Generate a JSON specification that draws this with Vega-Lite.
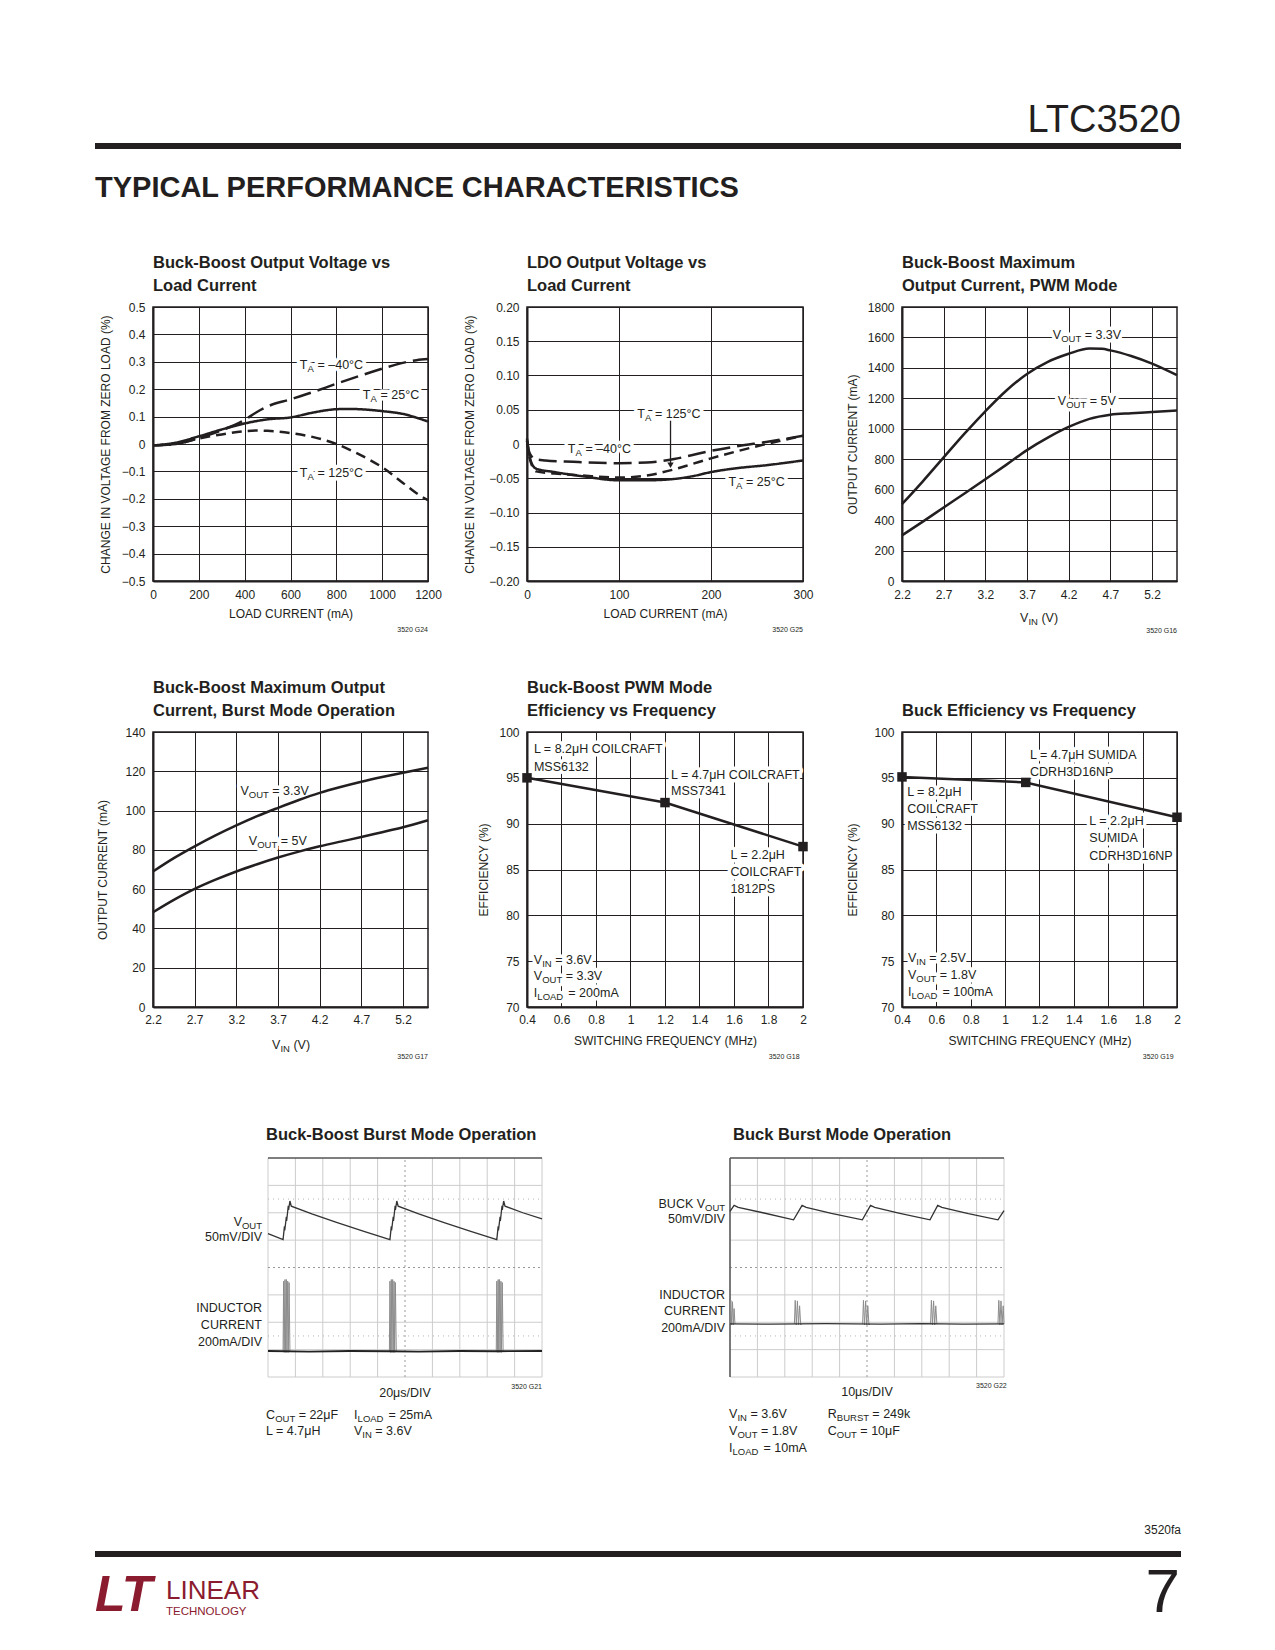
{
"$schema":"https://vega.github.io/schema/vega-lite/v6.json",
"background":"white",
"padding":{"left":92,"top":95,"right":5,"bottom":5},
"autosize":{"type":"pad"},
"config":{
 "font":"'Liberation Sans', sans-serif",
 "view":{"stroke":"#231F20","strokeWidth":1.5},
 "axis":{"grid":true,"gridColor":"#231F20","gridOpacity":1,"gridWidth":1,"domainColor":"#231F20","domainWidth":2,"ticks":false,"labelFont":"'Liberation Sans', sans-serif","labelFontSize":12,"labelColor":"#231F20","labelPadding":8,"labelFlush":false,"labelOverlap":false,"titleFont":"'Liberation Sans', sans-serif","titleFontSize":12,"titleFontWeight":"normal","titleColor":"#231F20"},
 "title":{"font":"'Liberation Sans', sans-serif","fontSize":16.5,"fontWeight":"bold","color":"#231F20","anchor":"start","frame":"group","baseline":"bottom","offset":7,"lineHeight":23},
 "text":{"font":"'Liberation Sans', sans-serif","fontSize":12.5,"color":"#231F20"},
 "line":{"color":"#231F20","strokeWidth":2.5},
 "point":{"color":"#231F20"},
 "rule":{"color":"#231F20"}
},
"datasets":{
 "a":[
  {"k":"-40","x":0,"y":-0.005},{"k":"-40","x":100,"y":0},{"k":"-40","x":200,"y":0.022},{"k":"-40","x":300,"y":0.05},{"k":"-40","x":400,"y":0.088},{"k":"-40","x":450,"y":0.115},{"k":"-40","x":500,"y":0.137},{"k":"-40","x":600,"y":0.163},{"k":"-40","x":700,"y":0.19},{"k":"-40","x":800,"y":0.22},{"k":"-40","x":900,"y":0.248},{"k":"-40","x":1000,"y":0.275},{"k":"-40","x":1100,"y":0.298},{"k":"-40","x":1150,"y":0.306},{"k":"-40","x":1200,"y":0.31},
  {"k":"25","x":0,"y":-0.005},{"k":"25","x":100,"y":0.005},{"k":"25","x":200,"y":0.028},{"k":"25","x":300,"y":0.053},{"k":"25","x":400,"y":0.075},{"k":"25","x":500,"y":0.09},{"k":"25","x":600,"y":0.097},{"k":"25","x":700,"y":0.115},{"k":"25","x":800,"y":0.127},{"k":"25","x":850,"y":0.128},{"k":"25","x":900,"y":0.127},{"k":"25","x":1000,"y":0.12},{"k":"25","x":1100,"y":0.108},{"k":"25","x":1150,"y":0.096},{"k":"25","x":1200,"y":0.082},
  {"k":"125","x":0,"y":-0.005},{"k":"125","x":100,"y":0},{"k":"125","x":200,"y":0.02},{"k":"125","x":300,"y":0.035},{"k":"125","x":400,"y":0.047},{"k":"125","x":450,"y":0.049},{"k":"125","x":500,"y":0.048},{"k":"125","x":600,"y":0.04},{"k":"125","x":700,"y":0.025},{"k":"125","x":800,"y":0},{"k":"125","x":900,"y":-0.038},{"k":"125","x":1000,"y":-0.085},{"k":"125","x":1100,"y":-0.148},{"k":"125","x":1150,"y":-0.18},{"k":"125","x":1200,"y":-0.205}
 ],
 "b":[
  {"k":"-40","x":0,"y":0.005},{"k":"-40","x":2,"y":-0.01},{"k":"-40","x":5,"y":-0.018},{"k":"-40","x":8,"y":-0.022},{"k":"-40","x":20,"y":-0.024},{"k":"-40","x":50,"y":-0.026},{"k":"-40","x":100,"y":-0.028},{"k":"-40","x":130,"y":-0.027},{"k":"-40","x":160,"y":-0.022},{"k":"-40","x":180,"y":-0.016},{"k":"-40","x":200,"y":-0.01},{"k":"-40","x":230,"y":-0.003},{"k":"-40","x":260,"y":0.003},{"k":"-40","x":300,"y":0.012},
  {"k":"25","x":0,"y":0.008},{"k":"25","x":2,"y":-0.012},{"k":"25","x":5,"y":-0.028},{"k":"25","x":10,"y":-0.036},{"k":"25","x":30,"y":-0.041},{"k":"25","x":60,"y":-0.047},{"k":"25","x":100,"y":-0.053},{"k":"25","x":130,"y":-0.053},{"k":"25","x":160,"y":-0.051},{"k":"25","x":180,"y":-0.047},{"k":"25","x":200,"y":-0.041},{"k":"25","x":230,"y":-0.035},{"k":"25","x":260,"y":-0.031},{"k":"25","x":300,"y":-0.024},
  {"k":"125","x":0,"y":0.005},{"k":"125","x":2,"y":-0.015},{"k":"125","x":5,"y":-0.03},{"k":"125","x":10,"y":-0.04},{"k":"125","x":30,"y":-0.043},{"k":"125","x":60,"y":-0.046},{"k":"125","x":100,"y":-0.049},{"k":"125","x":130,"y":-0.046},{"k":"125","x":160,"y":-0.037},{"k":"125","x":180,"y":-0.029},{"k":"125","x":200,"y":-0.021},{"k":"125","x":230,"y":-0.01},{"k":"125","x":260,"y":0},{"k":"125","x":300,"y":0.012}
 ],
 "arr":[{"x":156,"y":0.034,"y2":-0.031}],
 "c":[
  {"k":"3.3","x":2.2,"y":505},{"k":"3.3","x":2.45,"y":655},{"k":"3.3","x":2.7,"y":812},{"k":"3.3","x":2.95,"y":968},{"k":"3.3","x":3.2,"y":1115},{"k":"3.3","x":3.45,"y":1250},{"k":"3.3","x":3.7,"y":1360},{"k":"3.3","x":3.95,"y":1440},{"k":"3.3","x":4.2,"y":1493},{"k":"3.3","x":4.45,"y":1527},{"k":"3.3","x":4.6,"y":1525},{"k":"3.3","x":4.7,"y":1515},{"k":"3.3","x":4.95,"y":1478},{"k":"3.3","x":5.2,"y":1428},{"k":"3.3","x":5.5,"y":1352},
  {"k":"5","x":2.2,"y":300},{"k":"5","x":2.45,"y":390},{"k":"5","x":2.7,"y":483},{"k":"5","x":2.95,"y":575},{"k":"5","x":3.2,"y":669},{"k":"5","x":3.45,"y":763},{"k":"5","x":3.7,"y":860},{"k":"5","x":3.95,"y":942},{"k":"5","x":4.2,"y":1012},{"k":"5","x":4.45,"y":1065},{"k":"5","x":4.7,"y":1092},{"k":"5","x":4.95,"y":1102},{"k":"5","x":5.2,"y":1110},{"k":"5","x":5.5,"y":1120}
 ],
 "d":[
  {"k":"3.3","x":2.2,"y":69},{"k":"3.3","x":2.45,"y":75.8},{"k":"3.3","x":2.7,"y":81.8},{"k":"3.3","x":2.95,"y":87.4},{"k":"3.3","x":3.2,"y":92.5},{"k":"3.3","x":3.45,"y":97.2},{"k":"3.3","x":3.7,"y":101.4},{"k":"3.3","x":3.95,"y":105.4},{"k":"3.3","x":4.2,"y":109},{"k":"3.3","x":4.45,"y":112},{"k":"3.3","x":4.7,"y":114.7},{"k":"3.3","x":4.95,"y":117.1},{"k":"3.3","x":5.2,"y":119.3},{"k":"3.3","x":5.5,"y":121.8},
  {"k":"5","x":2.2,"y":48.2},{"k":"5","x":2.45,"y":54.5},{"k":"5","x":2.7,"y":60.1},{"k":"5","x":2.95,"y":64.8},{"k":"5","x":3.2,"y":69},{"k":"5","x":3.45,"y":72.7},{"k":"5","x":3.7,"y":76.1},{"k":"5","x":3.95,"y":79.1},{"k":"5","x":4.2,"y":81.8},{"k":"5","x":4.45,"y":84.2},{"k":"5","x":4.7,"y":86.5},{"k":"5","x":4.95,"y":89},{"k":"5","x":5.2,"y":91.5},{"k":"5","x":5.5,"y":95.1}
 ],
 "e":[{"x":0.4,"y":95},{"x":1.2,"y":92.3},{"x":2.0,"y":87.5}],
 "f":[{"x":0.4,"y":95.1},{"x":1.12,"y":94.5},{"x":2.0,"y":90.7}],
 "sg":[
  {"k":"g","x":0,"x2":0,"y":0,"y2":8},{"k":"g","x":1,"x2":1,"y":0,"y2":8},{"k":"g","x":2,"x2":2,"y":0,"y2":8},{"k":"g","x":3,"x2":3,"y":0,"y2":8},{"k":"g","x":4,"x2":4,"y":0,"y2":8},{"k":"g","x":6,"x2":6,"y":0,"y2":8},{"k":"g","x":7,"x2":7,"y":0,"y2":8},{"k":"g","x":8,"x2":8,"y":0,"y2":8},{"k":"g","x":9,"x2":9,"y":0,"y2":8},{"k":"g","x":10,"x2":10,"y":0,"y2":8},
  {"k":"g","x":0,"x2":10,"y":0,"y2":0},{"k":"g","x":0,"x2":10,"y":1,"y2":1},{"k":"g","x":0,"x2":10,"y":2,"y2":2},{"k":"g","x":0,"x2":10,"y":3,"y2":3},{"k":"g","x":0,"x2":10,"y":5,"y2":5},{"k":"g","x":0,"x2":10,"y":6,"y2":6},{"k":"g","x":0,"x2":10,"y":7,"y2":7},
  {"k":"d","x":0,"x2":10,"y":6.5,"y2":6.5},{"k":"d","x":0,"x2":10,"y":1.5,"y2":1.5},
  {"k":"c","x":0,"x2":10,"y":4,"y2":4},{"k":"c","x":5,"x2":5,"y":0,"y2":8},
  {"k":"t","x":0,"x2":10,"y":8,"y2":8},
  {"k":"l","x":0,"x2":0,"y":0,"y2":8}
 ],
 "s1":[
  {"k":"vout","x":0,"y":5.24},{"k":"vout","x":0.55,"y":5.02},{"k":"vout","x":0.6,"y":5.5},{"k":"vout","x":0.61,"y":5.35},{"k":"vout","x":0.67,"y":5.85},{"k":"vout","x":0.68,"y":5.7},{"k":"vout","x":0.74,"y":6.25},{"k":"vout","x":0.75,"y":6.1},{"k":"vout","x":0.8,"y":6.43},{"k":"vout","x":0.85,"y":6.24},{"k":"vout","x":1.6,"y":5.96},{"k":"vout","x":2.5,"y":5.65},{"k":"vout","x":3.5,"y":5.32},{"k":"vout","x":4.45,"y":5.02},
  {"k":"vout","x":4.5,"y":5.5},{"k":"vout","x":4.51,"y":5.35},{"k":"vout","x":4.57,"y":5.85},{"k":"vout","x":4.58,"y":5.7},{"k":"vout","x":4.64,"y":6.25},{"k":"vout","x":4.65,"y":6.1},{"k":"vout","x":4.7,"y":6.43},{"k":"vout","x":4.75,"y":6.24},{"k":"vout","x":5.5,"y":5.96},{"k":"vout","x":6.4,"y":5.65},{"k":"vout","x":7.4,"y":5.32},{"k":"vout","x":8.35,"y":5.02},
  {"k":"vout","x":8.4,"y":5.5},{"k":"vout","x":8.41,"y":5.35},{"k":"vout","x":8.47,"y":5.85},{"k":"vout","x":8.48,"y":5.7},{"k":"vout","x":8.54,"y":6.25},{"k":"vout","x":8.55,"y":6.1},{"k":"vout","x":8.6,"y":6.43},{"k":"vout","x":8.65,"y":6.24},{"k":"vout","x":9.3,"y":6.0},{"k":"vout","x":10,"y":5.78},
  {"k":"il","x":0,"y":0.95},{"k":"il","x":1.5,"y":0.93},{"k":"il","x":3,"y":0.95},{"k":"il","x":4.4,"y":0.94},{"k":"il","x":5.5,"y":0.93},{"k":"il","x":7,"y":0.95},{"k":"il","x":8.3,"y":0.94},{"k":"il","x":10,"y":0.95},
  {"k":"b1","x":0.55,"y":0.94},{"k":"b1","x":0.57,"y":3.5},{"k":"b1","x":0.59,"y":0.9},{"k":"b1","x":0.62,"y":3.56},{"k":"b1","x":0.64,"y":0.9},{"k":"b1","x":0.67,"y":3.56},{"k":"b1","x":0.69,"y":0.9},{"k":"b1","x":0.72,"y":3.5},{"k":"b1","x":0.74,"y":0.9},{"k":"b1","x":0.77,"y":3.45},{"k":"b1","x":0.8,"y":0.94},
  {"k":"b2","x":4.43,"y":0.94},{"k":"b2","x":4.45,"y":3.5},{"k":"b2","x":4.47,"y":0.9},{"k":"b2","x":4.5,"y":3.56},{"k":"b2","x":4.52,"y":0.9},{"k":"b2","x":4.55,"y":3.56},{"k":"b2","x":4.57,"y":0.9},{"k":"b2","x":4.6,"y":3.5},{"k":"b2","x":4.62,"y":0.9},{"k":"b2","x":4.65,"y":3.45},{"k":"b2","x":4.68,"y":0.94},
  {"k":"b3","x":8.33,"y":0.94},{"k":"b3","x":8.35,"y":3.5},{"k":"b3","x":8.37,"y":0.9},{"k":"b3","x":8.4,"y":3.56},{"k":"b3","x":8.42,"y":0.9},{"k":"b3","x":8.45,"y":3.56},{"k":"b3","x":8.47,"y":0.9},{"k":"b3","x":8.5,"y":3.5},{"k":"b3","x":8.52,"y":0.9},{"k":"b3","x":8.55,"y":3.45},{"k":"b3","x":8.58,"y":0.94}
 ],
 "s2":[
  {"k":"vout","x":0,"y":6.05},{"k":"vout","x":0.15,"y":6.27},{"k":"vout","x":0.3,"y":6.2},{"k":"vout","x":1.2,"y":6.0},{"k":"vout","x":2.32,"y":5.74},{"k":"vout","x":2.63,"y":6.27},{"k":"vout","x":2.78,"y":6.2},{"k":"vout","x":3.7,"y":5.98},{"k":"vout","x":4.83,"y":5.74},{"k":"vout","x":5.13,"y":6.27},{"k":"vout","x":5.28,"y":6.2},{"k":"vout","x":6.2,"y":5.98},{"k":"vout","x":7.3,"y":5.74},{"k":"vout","x":7.58,"y":6.27},{"k":"vout","x":7.73,"y":6.2},{"k":"vout","x":8.7,"y":5.97},{"k":"vout","x":9.78,"y":5.74},{"k":"vout","x":10,"y":6.08},
  {"k":"il","x":0,"y":1.94},{"k":"il","x":1.5,"y":1.93},{"k":"il","x":3.5,"y":1.95},{"k":"il","x":5.5,"y":1.93},{"k":"il","x":7.0,"y":1.95},{"k":"il","x":8.5,"y":1.93},{"k":"il","x":10,"y":1.94},
  {"k":"b1","x":0,"y":1.94},{"k":"b1","x":0.03,"y":2.8},{"k":"b1","x":0.06,"y":1.9},{"k":"b1","x":0.09,"y":2.75},{"k":"b1","x":0.12,"y":1.9},{"k":"b1","x":0.15,"y":2.5},{"k":"b1","x":0.18,"y":1.94},
  {"k":"b2","x":2.35,"y":1.94},{"k":"b2","x":2.38,"y":2.8},{"k":"b2","x":2.42,"y":1.9},{"k":"b2","x":2.46,"y":2.78},{"k":"b2","x":2.5,"y":1.9},{"k":"b2","x":2.54,"y":2.6},{"k":"b2","x":2.58,"y":1.9},{"k":"b2","x":2.62,"y":1.94},
  {"k":"b3","x":4.84,"y":1.94},{"k":"b3","x":4.87,"y":2.8},{"k":"b3","x":4.91,"y":1.9},{"k":"b3","x":4.95,"y":2.78},{"k":"b3","x":4.99,"y":1.9},{"k":"b3","x":5.03,"y":2.6},{"k":"b3","x":5.07,"y":1.9},{"k":"b3","x":5.1,"y":1.94},
  {"k":"b4","x":7.32,"y":1.94},{"k":"b4","x":7.35,"y":2.8},{"k":"b4","x":7.39,"y":1.9},{"k":"b4","x":7.43,"y":2.78},{"k":"b4","x":7.47,"y":1.9},{"k":"b4","x":7.51,"y":2.6},{"k":"b4","x":7.55,"y":1.94},
  {"k":"b5","x":9.78,"y":1.94},{"k":"b5","x":9.81,"y":2.8},{"k":"b5","x":9.85,"y":1.9},{"k":"b5","x":9.89,"y":2.78},{"k":"b5","x":9.93,"y":1.9},{"k":"b5","x":9.97,"y":2.6},{"k":"b5","x":10,"y":1.94}
 ],
 "lab":[
  {"p":"A","x":674,"y":0.29,"t":"T","s":"A","r":"= –40°C"},
  {"p":"A","x":949,"y":0.18,"t":"T","s":"A","r":"= 25°C"},
  {"p":"A","x":674,"y":-0.105,"t":"T","s":"A","r":"= 125°C"},
  {"p":"B","x":128.2,"y":0.044,"t":"T","s":"A","r":"= 125°C"},
  {"p":"B","x":52.6,"y":-0.008,"t":"T","s":"A","r":"= –40°C"},
  {"p":"B","x":227.2,"y":-0.0555,"t":"T","s":"A","r":"= 25°C"},
  {"p":"C","x":4.11,"y":1615,"t":"V","s":"OUT","r":"= 3.3V"},
  {"p":"C","x":4.17,"y":1180,"t":"V","s":"OUT","r":"= 5V"},
  {"p":"C","x":3.717,"y":-244,"t":"V","s":"IN","r":"(V)"},
  {"p":"D","x":3.35,"y":110,"t":"V","s":"OUT","r":"= 3.3V"},
  {"p":"D","x":3.45,"y":84.3,"t":"V","s":"OUT","r":"= 5V"},
  {"p":"D","x":3.729,"y":-19.3,"t":"V","s":"IN","r":"(V)"},
  {"p":"E","x":0.44,"y":98.1,"t":"","s":"","r":"L = 8.2μH COILCRAFT"},
  {"p":"E","x":0.44,"y":96.2,"t":"","s":"","r":"MSS6132"},
  {"p":"E","x":1.235,"y":95.3,"t":"","s":"","r":"L = 4.7μH COILCRAFT"},
  {"p":"E","x":1.235,"y":93.6,"t":"","s":"","r":"MSS7341"},
  {"p":"E","x":1.58,"y":86.6,"t":"","s":"","r":"L = 2.2μH"},
  {"p":"E","x":1.58,"y":84.7,"t":"","s":"","r":"COILCRAFT"},
  {"p":"E","x":1.58,"y":82.9,"t":"","s":"","r":"1812PS"},
  {"p":"E","x":0.488,"y":75.1,"t":"V","s":"IN","r":"= 3.6V"},
  {"p":"E","x":0.488,"y":73.4,"t":"V","s":"OUT","r":"= 3.3V"},
  {"p":"E","x":0.46,"y":71.5,"t":"I","s":"LOAD","r":"= 200mA"},
  {"p":"F","x":1.145,"y":97.5,"t":"","s":"","r":"L = 4.7μH SUMIDA"},
  {"p":"F","x":1.145,"y":95.6,"t":"","s":"","r":"CDRH3D16NP"},
  {"p":"F","x":0.43,"y":93.5,"t":"","s":"","r":"L = 8.2μH"},
  {"p":"F","x":0.43,"y":91.6,"t":"","s":"","r":"COILCRAFT"},
  {"p":"F","x":0.43,"y":89.75,"t":"","s":"","r":"MSS6132"},
  {"p":"F","x":1.49,"y":90.3,"t":"","s":"","r":"L = 2.2μH"},
  {"p":"F","x":1.49,"y":88.4,"t":"","s":"","r":"SUMIDA"},
  {"p":"F","x":1.49,"y":86.5,"t":"","s":"","r":"CDRH3D16NP"},
  {"p":"F","x":0.483,"y":75.4,"t":"V","s":"IN","r":"= 2.5V"},
  {"p":"F","x":0.483,"y":73.5,"t":"V","s":"OUT","r":"= 1.8V"},
  {"p":"F","x":0.455,"y":71.6,"t":"I","s":"LOAD","r":"= 100mA"},
  {"p":"S1","x":-0.95,"y":5.66,"t":"V","s":"OUT","r":""},
  {"p":"S1","x":-0.22,"y":5.11,"t":"50mV/DIV","s":"","r":""},
  {"p":"S1","x":-0.22,"y":2.52,"t":"INDUCTOR","s":"","r":""},
  {"p":"S1","x":-0.22,"y":1.9,"t":"CURRENT","s":"","r":""},
  {"p":"S1","x":-0.22,"y":1.28,"t":"200mA/DIV","s":"","r":""},
  {"p":"S1","x":0.26,"y":-1.39,"t":"C","s":"OUT","r":"= 22μF"},
  {"p":"S1","x":-0.07,"y":-1.97,"t":"","s":"","r":"L = 4.7μH"},
  {"p":"S1","x":3.27,"y":-1.39,"t":"I","s":"LOAD","r":"= 25mA"},
  {"p":"S1","x":3.44,"y":-1.97,"t":"V","s":"IN","r":"= 3.6V"},
  {"p":"S2","x":-0.91,"y":6.31,"t":"BUCK V","s":"OUT","r":""},
  {"p":"S2","x":-0.18,"y":5.77,"t":"50mV/DIV","s":"","r":""},
  {"p":"S2","x":-0.18,"y":2.99,"t":"INDUCTOR","s":"","r":""},
  {"p":"S2","x":-0.18,"y":2.41,"t":"CURRENT","s":"","r":""},
  {"p":"S2","x":-0.18,"y":1.79,"t":"200mA/DIV","s":"","r":""},
  {"p":"S2","x":0.27,"y":-1.35,"t":"V","s":"IN","r":"= 3.6V"},
  {"p":"S2","x":0.27,"y":-1.97,"t":"V","s":"OUT","r":"= 1.8V"},
  {"p":"S2","x":0.09,"y":-2.59,"t":"I","s":"LOAD","r":"= 10mA"},
  {"p":"S2","x":3.9,"y":-1.35,"t":"R","s":"BURST","r":"= 249k"},
  {"p":"S2","x":3.9,"y":-1.97,"t":"C","s":"OUT","r":"= 10μF"}
 ],
 "ids":[
  {"p":"A","k":"id","x":1200,"y":-0.679,"txt":"3520 G24"},
  {"p":"B","k":"id","x":300,"y":-0.2715,"txt":"3520 G25"},
  {"p":"C","k":"id","x":5.5,"y":-330,"txt":"3520 G16"},
  {"p":"D","k":"id","x":5.5,"y":-25.5,"txt":"3520 G17"},
  {"p":"E","k":"id","x":1.98,"y":64.5,"txt":"3520 G18"},
  {"p":"F","k":"id","x":1.98,"y":64.5,"txt":"3520 G19"},
  {"p":"S1","k":"id","x":10,"y":-0.36,"txt":"3520 G21"},
  {"p":"S2","k":"id","x":10.1,"y":-0.33,"txt":"3520 G22"},
  {"p":"S1","k":"div","x":5,"y":-0.58,"txt":"20μs/DIV"},
  {"p":"S2","k":"div","x":5,"y":-0.55,"txt":"10μs/DIV"}
 ]
},
"columns":3,
"align":"each",
"bounds":"flush",
"spacing":{"row":151,"column":99},
"concat":[
 {"width":275,"height":61,"view":{"stroke":null},
  "layer":[
   {"data":{"values":[{}]},"mark":{"type":"text","align":"right","baseline":"middle","fontSize":38},
    "encoding":{"x":{"datum":373.82,"type":"quantitative","scale":{"domain":[0,100],"nice":false},"axis":null},"y":{"datum":42.6,"type":"quantitative","scale":{"domain":[0,100],"reverse":true,"nice":false},"axis":null},"text":{"value":"LTC3520"}}},
   {"data":{"values":[{}]},"mark":{"type":"rule","strokeWidth":6},
    "encoding":{"x":{"datum":-21.09,"type":"quantitative","scale":{"domain":[0,100],"nice":false},"axis":null},"x2":{"datum":373.82},"y":{"datum":83.6,"type":"quantitative","scale":{"domain":[0,100],"reverse":true,"nice":false},"axis":null}}},
   {"data":{"values":[{}]},"mark":{"type":"text","align":"left","baseline":"middle","fontSize":29,"fontWeight":"bold"},
    "encoding":{"x":{"datum":-21.09,"type":"quantitative","scale":{"domain":[0,100],"nice":false},"axis":null},"y":{"datum":152.5,"type":"quantitative","scale":{"domain":[0,100],"reverse":true,"nice":false},"axis":null},"text":{"value":"TYPICAL PERFORMANCE CHARACTERISTICS"}}}
  ]},
 {"width":1,"height":61,"view":{"stroke":null},"data":{"values":[{}]},"mark":{"type":"point","opacity":0}},
 {"width":1,"height":61,"view":{"stroke":null},"data":{"values":[{}]},"mark":{"type":"point","opacity":0}},

 {"width":275,"height":274,
  "title":{"text":["Buck-Boost Output Voltage vs","Load Current"]},
  "encoding":{
   "x":{"field":"x","type":"quantitative","scale":{"domain":[0,1200],"nice":false,"zero":false},"axis":{"values":[0,200,400,600,800,1000,1200],"format":"d","title":"LOAD CURRENT (mA)","titlePadding":8}},
   "y":{"field":"y","type":"quantitative","scale":{"domain":[-0.5,0.5],"nice":false,"zero":false},"axis":{"values":[-0.5,-0.4,-0.3,-0.2,-0.1,0,0.1,0.2,0.3,0.4,0.5],"labelExpr":"datum.value == 0 ? '0' : format(datum.value, '.1f')","title":"CHANGE IN VOLTAGE FROM ZERO LOAD (%)","titlePadding":9}}},
  "layer":[
   {"data":{"name":"lab"},"transform":[{"filter":"datum.p=='A'"}],"mark":{"type":"text","align":"right","baseline":"middle","fill":"white","stroke":"white","strokeWidth":7,"strokeJoin":"round"},"encoding":{"text":{"field":"t","type":"nominal"}}},
   {"data":{"name":"lab"},"transform":[{"filter":"datum.p=='A'"}],"mark":{"type":"text","align":"left","baseline":"middle","fontSize":9.5,"dy":4,"fill":"white","stroke":"white","strokeWidth":7,"strokeJoin":"round"},"encoding":{"text":{"field":"s","type":"nominal"}}},
   {"data":{"name":"lab"},"transform":[{"filter":"datum.p=='A' && datum.s=='A'"}],"mark":{"type":"text","align":"left","baseline":"middle","dx":10,"fill":"white","stroke":"white","strokeWidth":7,"strokeJoin":"round"},"encoding":{"text":{"field":"r","type":"nominal"}}},
   {"data":{"name":"a"},"mark":{"type":"line","interpolate":"monotone"},"encoding":{"strokeDash":{"field":"k","type":"nominal","scale":{"domain":["-40","25","125"],"range":[[18,7],[1,0],[10,6]]},"legend":null}}},
   {"data":{"name":"lab"},"transform":[{"filter":"datum.p=='A'"}],"mark":{"type":"text","align":"right","baseline":"middle"},"encoding":{"text":{"field":"t","type":"nominal"}}},
   {"data":{"name":"lab"},"transform":[{"filter":"datum.p=='A'"}],"mark":{"type":"text","align":"left","baseline":"middle","fontSize":9.5,"dy":4},"encoding":{"text":{"field":"s","type":"nominal"}}},
   {"data":{"name":"lab"},"transform":[{"filter":"datum.p=='A' && datum.s=='A'"}],"mark":{"type":"text","align":"left","baseline":"middle","dx":10},"encoding":{"text":{"field":"r","type":"nominal"}}},
   {"data":{"name":"ids"},"transform":[{"filter":"datum.p=='A' && datum.k=='id'"}],"mark":{"type":"text","align":"right","baseline":"middle","fontSize":7},"encoding":{"text":{"field":"txt","type":"nominal"}}}
  ]},
 {"width":276,"height":274,
  "title":{"text":["LDO Output Voltage vs","Load Current"]},
  "encoding":{
   "x":{"field":"x","type":"quantitative","scale":{"domain":[0,300],"nice":false,"zero":false},"axis":{"values":[0,100,200,300],"format":"d","title":"LOAD CURRENT (mA)","titlePadding":8}},
   "y":{"field":"y","type":"quantitative","scale":{"domain":[-0.2,0.2],"nice":false,"zero":false},"axis":{"values":[-0.2,-0.15,-0.1,-0.05,0,0.05,0.1,0.15,0.2],"labelExpr":"datum.value == 0 ? '0' : format(datum.value, '.2f')","title":"CHANGE IN VOLTAGE FROM ZERO LOAD (%)","titlePadding":12}}},
  "layer":[
   {"data":{"name":"lab"},"transform":[{"filter":"datum.p=='B'"}],"mark":{"type":"text","align":"right","baseline":"middle","fill":"white","stroke":"white","strokeWidth":7,"strokeJoin":"round"},"encoding":{"text":{"field":"t","type":"nominal"}}},
   {"data":{"name":"lab"},"transform":[{"filter":"datum.p=='B'"}],"mark":{"type":"text","align":"left","baseline":"middle","fontSize":9.5,"dy":4,"fill":"white","stroke":"white","strokeWidth":7,"strokeJoin":"round"},"encoding":{"text":{"field":"s","type":"nominal"}}},
   {"data":{"name":"lab"},"transform":[{"filter":"datum.p=='B' && datum.s=='A'"}],"mark":{"type":"text","align":"left","baseline":"middle","dx":10,"fill":"white","stroke":"white","strokeWidth":7,"strokeJoin":"round"},"encoding":{"text":{"field":"r","type":"nominal"}}},
   {"data":{"name":"b"},"mark":{"type":"line","interpolate":"monotone"},"encoding":{"strokeDash":{"field":"k","type":"nominal","scale":{"domain":["-40","25","125"],"range":[[15,6],[1,0],[7,5]]},"legend":null}}},
   {"data":{"name":"arr"},"mark":{"type":"rule","strokeWidth":1.3},"encoding":{"y2":{"field":"y2"}}},
   {"data":{"name":"arr"},"mark":{"type":"point","shape":"triangle-down","filled":true,"size":40,"opacity":1},"encoding":{"y":{"field":"y2"}}},
   {"data":{"name":"lab"},"transform":[{"filter":"datum.p=='B'"}],"mark":{"type":"text","align":"right","baseline":"middle"},"encoding":{"text":{"field":"t","type":"nominal"}}},
   {"data":{"name":"lab"},"transform":[{"filter":"datum.p=='B'"}],"mark":{"type":"text","align":"left","baseline":"middle","fontSize":9.5,"dy":4},"encoding":{"text":{"field":"s","type":"nominal"}}},
   {"data":{"name":"lab"},"transform":[{"filter":"datum.p=='B' && datum.s=='A'"}],"mark":{"type":"text","align":"left","baseline":"middle","dx":10},"encoding":{"text":{"field":"r","type":"nominal"}}},
   {"data":{"name":"ids"},"transform":[{"filter":"datum.p=='B' && datum.k=='id'"}],"mark":{"type":"text","align":"right","baseline":"middle","fontSize":7},"encoding":{"text":{"field":"txt","type":"nominal"}}}
  ]},
 {"width":275,"height":274,
  "title":{"text":["Buck-Boost Maximum","Output Current, PWM Mode"]},
  "encoding":{
   "x":{"field":"x","type":"quantitative","scale":{"domain":[2.2,5.5],"nice":false,"zero":false},"axis":{"values":[2.2,2.7,3.2,3.7,4.2,4.7,5.2],"format":".1f","title":null}},
   "y":{"field":"y","type":"quantitative","scale":{"domain":[0,1800],"nice":false,"zero":false},"axis":{"values":[0,200,400,600,800,1000,1200,1400,1600,1800],"format":"d","title":"OUTPUT CURRENT (mA)","titlePadding":7.5}}},
  "layer":[
   {"data":{"name":"lab"},"transform":[{"filter":"datum.p=='C'"}],"mark":{"type":"text","align":"right","baseline":"middle","fill":"white","stroke":"white","strokeWidth":7,"strokeJoin":"round"},"encoding":{"text":{"field":"t","type":"nominal"}}},
   {"data":{"name":"lab"},"transform":[{"filter":"datum.p=='C'"}],"mark":{"type":"text","align":"left","baseline":"middle","fontSize":9.5,"dy":4,"fill":"white","stroke":"white","strokeWidth":7,"strokeJoin":"round"},"encoding":{"text":{"field":"s","type":"nominal"}}},
   {"data":{"name":"lab"},"transform":[{"filter":"datum.p=='C' && datum.s=='OUT'"}],"mark":{"type":"text","align":"left","baseline":"middle","dx":23.5,"fill":"white","stroke":"white","strokeWidth":7,"strokeJoin":"round"},"encoding":{"text":{"field":"r","type":"nominal"}}},
   {"data":{"name":"c"},"mark":{"type":"line","interpolate":"monotone"},"encoding":{"detail":{"field":"k","type":"nominal"}}},
   {"data":{"name":"lab"},"transform":[{"filter":"datum.p=='C'"}],"mark":{"type":"text","align":"right","baseline":"middle"},"encoding":{"text":{"field":"t","type":"nominal"}}},
   {"data":{"name":"lab"},"transform":[{"filter":"datum.p=='C'"}],"mark":{"type":"text","align":"left","baseline":"middle","fontSize":9.5,"dy":4},"encoding":{"text":{"field":"s","type":"nominal"}}},
   {"data":{"name":"lab"},"transform":[{"filter":"datum.p=='C' && datum.s=='OUT'"}],"mark":{"type":"text","align":"left","baseline":"middle","dx":23.5},"encoding":{"text":{"field":"r","type":"nominal"}}},
   {"data":{"name":"lab"},"transform":[{"filter":"datum.p=='C' && datum.s=='IN'"}],"mark":{"type":"text","align":"left","baseline":"middle","dx":13},"encoding":{"text":{"field":"r","type":"nominal"}}},
   {"data":{"name":"ids"},"transform":[{"filter":"datum.p=='C' && datum.k=='id'"}],"mark":{"type":"text","align":"right","baseline":"middle","fontSize":7},"encoding":{"text":{"field":"txt","type":"nominal"}}}
  ]},

 {"width":275,"height":275,
  "title":{"text":["Buck-Boost Maximum Output","Current, Burst Mode Operation"]},
  "encoding":{
   "x":{"field":"x","type":"quantitative","scale":{"domain":[2.2,5.5],"nice":false,"zero":false},"axis":{"values":[2.2,2.7,3.2,3.7,4.2,4.7,5.2],"format":".1f","title":null,"labelPadding":7}},
   "y":{"field":"y","type":"quantitative","scale":{"domain":[0,140],"nice":false,"zero":false},"axis":{"values":[0,20,40,60,80,100,120,140],"format":"d","title":"OUTPUT CURRENT (mA)","titlePadding":15}}},
  "layer":[
   {"data":{"name":"lab"},"transform":[{"filter":"datum.p=='D'"}],"mark":{"type":"text","align":"right","baseline":"middle","fill":"white","stroke":"white","strokeWidth":7,"strokeJoin":"round"},"encoding":{"text":{"field":"t","type":"nominal"}}},
   {"data":{"name":"lab"},"transform":[{"filter":"datum.p=='D'"}],"mark":{"type":"text","align":"left","baseline":"middle","fontSize":9.5,"dy":4,"fill":"white","stroke":"white","strokeWidth":7,"strokeJoin":"round"},"encoding":{"text":{"field":"s","type":"nominal"}}},
   {"data":{"name":"lab"},"transform":[{"filter":"datum.p=='D' && datum.s=='OUT'"}],"mark":{"type":"text","align":"left","baseline":"middle","dx":23.5,"fill":"white","stroke":"white","strokeWidth":7,"strokeJoin":"round"},"encoding":{"text":{"field":"r","type":"nominal"}}},
   {"data":{"name":"d"},"mark":{"type":"line","interpolate":"monotone"},"encoding":{"detail":{"field":"k","type":"nominal"}}},
   {"data":{"name":"lab"},"transform":[{"filter":"datum.p=='D'"}],"mark":{"type":"text","align":"right","baseline":"middle"},"encoding":{"text":{"field":"t","type":"nominal"}}},
   {"data":{"name":"lab"},"transform":[{"filter":"datum.p=='D'"}],"mark":{"type":"text","align":"left","baseline":"middle","fontSize":9.5,"dy":4},"encoding":{"text":{"field":"s","type":"nominal"}}},
   {"data":{"name":"lab"},"transform":[{"filter":"datum.p=='D' && datum.s=='OUT'"}],"mark":{"type":"text","align":"left","baseline":"middle","dx":23.5},"encoding":{"text":{"field":"r","type":"nominal"}}},
   {"data":{"name":"lab"},"transform":[{"filter":"datum.p=='D' && datum.s=='IN'"}],"mark":{"type":"text","align":"left","baseline":"middle","dx":13},"encoding":{"text":{"field":"r","type":"nominal"}}},
   {"data":{"name":"ids"},"transform":[{"filter":"datum.p=='D' && datum.k=='id'"}],"mark":{"type":"text","align":"right","baseline":"middle","fontSize":7},"encoding":{"text":{"field":"txt","type":"nominal"}}}
  ]},
 {"width":276,"height":275,
  "title":{"text":["Buck-Boost PWM Mode","Efficiency vs Frequency"]},
  "encoding":{
   "x":{"field":"x","type":"quantitative","scale":{"domain":[0.4,2],"nice":false,"zero":false},"axis":{"values":[0.4,0.6,0.8,1,1.2,1.4,1.6,1.8,2],"format":"~g","title":"SWITCHING FREQUENCY (MHz)","labelPadding":7,"titlePadding":10}},
   "y":{"field":"y","type":"quantitative","scale":{"domain":[70,100],"nice":false,"zero":false},"axis":{"values":[70,75,80,85,90,95,100],"format":"d","title":"EFFICIENCY (%)","titlePadding":8}}},
  "layer":[
   {"data":{"name":"lab"},"transform":[{"filter":"datum.p=='E'"}],"mark":{"type":"text","align":"right","baseline":"middle","fill":"white","stroke":"white","strokeWidth":7,"strokeJoin":"round"},"encoding":{"text":{"field":"t","type":"nominal"}}},
   {"data":{"name":"lab"},"transform":[{"filter":"datum.p=='E'"}],"mark":{"type":"text","align":"left","baseline":"middle","fontSize":9.5,"dy":4,"fill":"white","stroke":"white","strokeWidth":7,"strokeJoin":"round"},"encoding":{"text":{"field":"s","type":"nominal"}}},
   {"data":{"name":"lab"},"transform":[{"filter":"datum.p=='E' && datum.s==''"}],"mark":{"type":"text","align":"left","baseline":"middle","fill":"white","stroke":"white","strokeWidth":7,"strokeJoin":"round"},"encoding":{"text":{"field":"r","type":"nominal"}}},
   {"data":{"name":"lab"},"transform":[{"filter":"datum.p=='E' && datum.s=='IN'"}],"mark":{"type":"text","align":"left","baseline":"middle","dx":13,"fill":"white","stroke":"white","strokeWidth":7,"strokeJoin":"round"},"encoding":{"text":{"field":"r","type":"nominal"}}},
   {"data":{"name":"lab"},"transform":[{"filter":"datum.p=='E' && datum.s=='OUT'"}],"mark":{"type":"text","align":"left","baseline":"middle","dx":23.5,"fill":"white","stroke":"white","strokeWidth":7,"strokeJoin":"round"},"encoding":{"text":{"field":"r","type":"nominal"}}},
   {"data":{"name":"lab"},"transform":[{"filter":"datum.p=='E' && datum.s=='LOAD'"}],"mark":{"type":"text","align":"left","baseline":"middle","dx":31,"fill":"white","stroke":"white","strokeWidth":7,"strokeJoin":"round"},"encoding":{"text":{"field":"r","type":"nominal"}}},
   {"data":{"name":"e"},"mark":{"type":"line"}},
   {"data":{"name":"e"},"mark":{"type":"point","shape":"square","filled":true,"size":90,"opacity":1}},
   {"data":{"name":"lab"},"transform":[{"filter":"datum.p=='E'"}],"mark":{"type":"text","align":"right","baseline":"middle"},"encoding":{"text":{"field":"t","type":"nominal"}}},
   {"data":{"name":"lab"},"transform":[{"filter":"datum.p=='E'"}],"mark":{"type":"text","align":"left","baseline":"middle","fontSize":9.5,"dy":4},"encoding":{"text":{"field":"s","type":"nominal"}}},
   {"data":{"name":"lab"},"transform":[{"filter":"datum.p=='E' && datum.s==''"}],"mark":{"type":"text","align":"left","baseline":"middle"},"encoding":{"text":{"field":"r","type":"nominal"}}},
   {"data":{"name":"lab"},"transform":[{"filter":"datum.p=='E' && datum.s=='IN'"}],"mark":{"type":"text","align":"left","baseline":"middle","dx":13},"encoding":{"text":{"field":"r","type":"nominal"}}},
   {"data":{"name":"lab"},"transform":[{"filter":"datum.p=='E' && datum.s=='OUT'"}],"mark":{"type":"text","align":"left","baseline":"middle","dx":23.5},"encoding":{"text":{"field":"r","type":"nominal"}}},
   {"data":{"name":"lab"},"transform":[{"filter":"datum.p=='E' && datum.s=='LOAD'"}],"mark":{"type":"text","align":"left","baseline":"middle","dx":31},"encoding":{"text":{"field":"r","type":"nominal"}}},
   {"data":{"name":"ids"},"transform":[{"filter":"datum.p=='E' && datum.k=='id'"}],"mark":{"type":"text","align":"right","baseline":"middle","fontSize":7},"encoding":{"text":{"field":"txt","type":"nominal"}}}
  ]},
 {"width":275,"height":275,
  "title":{"text":"Buck Efficiency vs Frequency"},
  "encoding":{
   "x":{"field":"x","type":"quantitative","scale":{"domain":[0.4,2],"nice":false,"zero":false},"axis":{"values":[0.4,0.6,0.8,1,1.2,1.4,1.6,1.8,2],"format":"~g","title":"SWITCHING FREQUENCY (MHz)","labelPadding":7,"titlePadding":10}},
   "y":{"field":"y","type":"quantitative","scale":{"domain":[70,100],"nice":false,"zero":false},"axis":{"values":[70,75,80,85,90,95,100],"format":"d","title":"EFFICIENCY (%)","titlePadding":14}}},
  "layer":[
   {"data":{"name":"lab"},"transform":[{"filter":"datum.p=='F'"}],"mark":{"type":"text","align":"right","baseline":"middle","fill":"white","stroke":"white","strokeWidth":7,"strokeJoin":"round"},"encoding":{"text":{"field":"t","type":"nominal"}}},
   {"data":{"name":"lab"},"transform":[{"filter":"datum.p=='F'"}],"mark":{"type":"text","align":"left","baseline":"middle","fontSize":9.5,"dy":4,"fill":"white","stroke":"white","strokeWidth":7,"strokeJoin":"round"},"encoding":{"text":{"field":"s","type":"nominal"}}},
   {"data":{"name":"lab"},"transform":[{"filter":"datum.p=='F' && datum.s==''"}],"mark":{"type":"text","align":"left","baseline":"middle","fill":"white","stroke":"white","strokeWidth":7,"strokeJoin":"round"},"encoding":{"text":{"field":"r","type":"nominal"}}},
   {"data":{"name":"lab"},"transform":[{"filter":"datum.p=='F' && datum.s=='IN'"}],"mark":{"type":"text","align":"left","baseline":"middle","dx":13,"fill":"white","stroke":"white","strokeWidth":7,"strokeJoin":"round"},"encoding":{"text":{"field":"r","type":"nominal"}}},
   {"data":{"name":"lab"},"transform":[{"filter":"datum.p=='F' && datum.s=='OUT'"}],"mark":{"type":"text","align":"left","baseline":"middle","dx":23.5,"fill":"white","stroke":"white","strokeWidth":7,"strokeJoin":"round"},"encoding":{"text":{"field":"r","type":"nominal"}}},
   {"data":{"name":"lab"},"transform":[{"filter":"datum.p=='F' && datum.s=='LOAD'"}],"mark":{"type":"text","align":"left","baseline":"middle","dx":31,"fill":"white","stroke":"white","strokeWidth":7,"strokeJoin":"round"},"encoding":{"text":{"field":"r","type":"nominal"}}},
   {"data":{"name":"f"},"mark":{"type":"line"}},
   {"data":{"name":"f"},"mark":{"type":"point","shape":"square","filled":true,"size":90,"opacity":1}},
   {"data":{"name":"lab"},"transform":[{"filter":"datum.p=='F'"}],"mark":{"type":"text","align":"right","baseline":"middle"},"encoding":{"text":{"field":"t","type":"nominal"}}},
   {"data":{"name":"lab"},"transform":[{"filter":"datum.p=='F'"}],"mark":{"type":"text","align":"left","baseline":"middle","fontSize":9.5,"dy":4},"encoding":{"text":{"field":"s","type":"nominal"}}},
   {"data":{"name":"lab"},"transform":[{"filter":"datum.p=='F' && datum.s==''"}],"mark":{"type":"text","align":"left","baseline":"middle"},"encoding":{"text":{"field":"r","type":"nominal"}}},
   {"data":{"name":"lab"},"transform":[{"filter":"datum.p=='F' && datum.s=='IN'"}],"mark":{"type":"text","align":"left","baseline":"middle","dx":13},"encoding":{"text":{"field":"r","type":"nominal"}}},
   {"data":{"name":"lab"},"transform":[{"filter":"datum.p=='F' && datum.s=='OUT'"}],"mark":{"type":"text","align":"left","baseline":"middle","dx":23.5},"encoding":{"text":{"field":"r","type":"nominal"}}},
   {"data":{"name":"lab"},"transform":[{"filter":"datum.p=='F' && datum.s=='LOAD'"}],"mark":{"type":"text","align":"left","baseline":"middle","dx":31},"encoding":{"text":{"field":"r","type":"nominal"}}},
   {"data":{"name":"ids"},"transform":[{"filter":"datum.p=='F' && datum.k=='id'"}],"mark":{"type":"text","align":"right","baseline":"middle","fontSize":7},"encoding":{"text":{"field":"txt","type":"nominal"}}}
  ]},

 {"width":275,"height":219,"view":{"stroke":null},
  "title":{"text":"Buck-Boost Burst Mode Operation","offset":14,"dx":113},
  "encoding":{
   "x":{"field":"x","type":"quantitative","scale":{"domain":[-4.197,5.839],"nice":false,"zero":false},"axis":null},
   "y":{"field":"y","type":"quantitative","scale":{"domain":[0,8],"nice":false,"zero":false},"axis":null}},
  "layer":[
   {"data":{"name":"sg"},"transform":[{"filter":"datum.k=='g'"}],"mark":{"type":"rule","color":"#cccccc","strokeWidth":1},"encoding":{"x2":{"field":"x2"},"y2":{"field":"y2"}}},
   {"data":{"name":"sg"},"transform":[{"filter":"datum.k=='d'"}],"mark":{"type":"rule","color":"#b5b5b5","strokeDash":[1,4]},"encoding":{"x2":{"field":"x2"},"y2":{"field":"y2"}}},
   {"data":{"name":"sg"},"transform":[{"filter":"datum.k=='c'"}],"mark":{"type":"rule","color":"#999999","strokeDash":[2,3]},"encoding":{"x2":{"field":"x2"},"y2":{"field":"y2"}}},
   {"data":{"name":"sg"},"transform":[{"filter":"datum.k=='t'"}],"mark":{"type":"rule","color":"#555555","strokeWidth":1.5},"encoding":{"x2":{"field":"x2"},"y2":{"field":"y2"}}},
   {"data":{"name":"s1"},"transform":[{"filter":"indexof(datum.k,'b')==0"}],"mark":{"type":"line","strokeWidth":1,"color":"#8c8c8c"},"encoding":{"detail":{"field":"k","type":"nominal"}}},
   {"data":{"name":"s1"},"transform":[{"filter":"datum.k=='il'"}],"mark":{"type":"line","strokeWidth":1.8,"color":"#222222"}},
   {"data":{"name":"s1"},"transform":[{"filter":"datum.k=='vout'"}],"mark":{"type":"line","strokeWidth":1.3,"color":"#333333"}},
   {"data":{"name":"lab"},"transform":[{"filter":"datum.p=='S1'"}],"mark":{"type":"text","align":"right","baseline":"middle"},"encoding":{"text":{"field":"t","type":"nominal"}}},
   {"data":{"name":"lab"},"transform":[{"filter":"datum.p=='S1'"}],"mark":{"type":"text","align":"left","baseline":"middle","fontSize":9.5,"dy":4},"encoding":{"text":{"field":"s","type":"nominal"}}},
   {"data":{"name":"lab"},"transform":[{"filter":"datum.p=='S1' && datum.s==''"}],"mark":{"type":"text","align":"left","baseline":"middle"},"encoding":{"text":{"field":"r","type":"nominal"}}},
   {"data":{"name":"lab"},"transform":[{"filter":"datum.p=='S1' && datum.s=='IN'"}],"mark":{"type":"text","align":"left","baseline":"middle","dx":13},"encoding":{"text":{"field":"r","type":"nominal"}}},
   {"data":{"name":"lab"},"transform":[{"filter":"datum.p=='S1' && datum.s=='OUT'"}],"mark":{"type":"text","align":"left","baseline":"middle","dx":23.5},"encoding":{"text":{"field":"r","type":"nominal"}}},
   {"data":{"name":"lab"},"transform":[{"filter":"datum.p=='S1' && datum.s=='LOAD'"}],"mark":{"type":"text","align":"left","baseline":"middle","dx":31},"encoding":{"text":{"field":"r","type":"nominal"}}},
   {"data":{"name":"ids"},"transform":[{"filter":"datum.p=='S1' && datum.k=='id'"}],"mark":{"type":"text","align":"right","baseline":"middle","fontSize":7},"encoding":{"text":{"field":"txt","type":"nominal"}}},
   {"data":{"name":"ids"},"transform":[{"filter":"datum.p=='S1' && datum.k=='div'"}],"mark":{"type":"text","align":"center","baseline":"middle"},"encoding":{"text":{"field":"txt","type":"nominal"}}}
  ]},
 {"width":276,"height":219,"view":{"stroke":null},
  "title":{"text":"Buck Burst Mode Operation","offset":14,"dx":206},
  "encoding":{
   "x":{"field":"x","type":"quantitative","scale":{"domain":[-7.409,2.664],"nice":false,"zero":false},"axis":null},
   "y":{"field":"y","type":"quantitative","scale":{"domain":[0,8],"nice":false,"zero":false},"axis":null}},
  "layer":[
   {"data":{"name":"sg"},"transform":[{"filter":"datum.k=='g'"}],"mark":{"type":"rule","color":"#cccccc","strokeWidth":1},"encoding":{"x2":{"field":"x2"},"y2":{"field":"y2"}}},
   {"data":{"name":"sg"},"transform":[{"filter":"datum.k=='d'"}],"mark":{"type":"rule","color":"#b5b5b5","strokeDash":[1,4]},"encoding":{"x2":{"field":"x2"},"y2":{"field":"y2"}}},
   {"data":{"name":"sg"},"transform":[{"filter":"datum.k=='c'"}],"mark":{"type":"rule","color":"#999999","strokeDash":[2,3]},"encoding":{"x2":{"field":"x2"},"y2":{"field":"y2"}}},
   {"data":{"name":"sg"},"transform":[{"filter":"datum.k=='t' || datum.k=='l'"}],"mark":{"type":"rule","color":"#555555","strokeWidth":1.5},"encoding":{"x2":{"field":"x2"},"y2":{"field":"y2"}}},
   {"data":{"name":"s2"},"transform":[{"filter":"indexof(datum.k,'b')==0"}],"mark":{"type":"line","strokeWidth":1,"color":"#8c8c8c"},"encoding":{"detail":{"field":"k","type":"nominal"}}},
   {"data":{"name":"s2"},"transform":[{"filter":"datum.k=='il'"}],"mark":{"type":"line","strokeWidth":1.3,"color":"#333333"}},
   {"data":{"name":"s2"},"transform":[{"filter":"datum.k=='vout'"}],"mark":{"type":"line","strokeWidth":1.3,"color":"#333333"}},
   {"data":{"name":"lab"},"transform":[{"filter":"datum.p=='S2'"}],"mark":{"type":"text","align":"right","baseline":"middle"},"encoding":{"text":{"field":"t","type":"nominal"}}},
   {"data":{"name":"lab"},"transform":[{"filter":"datum.p=='S2'"}],"mark":{"type":"text","align":"left","baseline":"middle","fontSize":9.5,"dy":4},"encoding":{"text":{"field":"s","type":"nominal"}}},
   {"data":{"name":"lab"},"transform":[{"filter":"datum.p=='S2' && datum.s=='IN'"}],"mark":{"type":"text","align":"left","baseline":"middle","dx":13},"encoding":{"text":{"field":"r","type":"nominal"}}},
   {"data":{"name":"lab"},"transform":[{"filter":"datum.p=='S2' && datum.s=='OUT'"}],"mark":{"type":"text","align":"left","baseline":"middle","dx":23.5},"encoding":{"text":{"field":"r","type":"nominal"}}},
   {"data":{"name":"lab"},"transform":[{"filter":"datum.p=='S2' && datum.s=='LOAD'"}],"mark":{"type":"text","align":"left","baseline":"middle","dx":31},"encoding":{"text":{"field":"r","type":"nominal"}}},
   {"data":{"name":"lab"},"transform":[{"filter":"datum.p=='S2' && datum.s=='BURST'"}],"mark":{"type":"text","align":"left","baseline":"middle","dx":35.5},"encoding":{"text":{"field":"r","type":"nominal"}}},
   {"data":{"name":"ids"},"transform":[{"filter":"datum.p=='S2' && datum.k=='id'"}],"mark":{"type":"text","align":"right","baseline":"middle","fontSize":7},"encoding":{"text":{"field":"txt","type":"nominal"}}},
   {"data":{"name":"ids"},"transform":[{"filter":"datum.p=='S2' && datum.k=='div'"}],"mark":{"type":"text","align":"center","baseline":"middle"},"encoding":{"text":{"field":"txt","type":"nominal"}}}
  ]},
 {"width":1,"height":219,"view":{"stroke":null},"data":{"values":[{}]},"mark":{"type":"point","opacity":0}},

 {"width":275,"height":100,"view":{"stroke":null},
  "layer":[
   {"data":{"values":[{}]},"mark":{"type":"text","align":"right","baseline":"middle","fontSize":12},
    "encoding":{"x":{"datum":373.82,"type":"quantitative","scale":{"domain":[0,100],"nice":false},"axis":null},"y":{"datum":2,"type":"quantitative","scale":{"domain":[0,100],"reverse":true,"nice":false},"axis":null},"text":{"value":"3520fa"}}},
   {"data":{"values":[{}]},"mark":{"type":"rule","strokeWidth":6},
    "encoding":{"x":{"datum":-21.09,"type":"quantitative","scale":{"domain":[0,100],"nice":false},"axis":null},"x2":{"datum":373.82},"y":{"datum":26,"type":"quantitative","scale":{"domain":[0,100],"reverse":true,"nice":false},"axis":null}}},
   {"data":{"values":[{}]},"mark":{"type":"text","align":"right","baseline":"middle","fontSize":62},
    "encoding":{"x":{"datum":373.45,"type":"quantitative","scale":{"domain":[0,100],"nice":false},"axis":null},"y":{"datum":65,"type":"quantitative","scale":{"domain":[0,100],"reverse":true,"nice":false},"axis":null},"text":{"value":"7"}}},
   {"data":{"values":[{}]},"mark":{"type":"text","align":"left","baseline":"middle","fontSize":50,"fontWeight":"bold","fontStyle":"italic","color":"#8B1B2F"},
    "encoding":{"x":{"datum":-21.09,"type":"quantitative","scale":{"domain":[0,100],"nice":false},"axis":null},"y":{"datum":68,"type":"quantitative","scale":{"domain":[0,100],"reverse":true,"nice":false},"axis":null},"text":{"value":"LT"}}},
   {"data":{"values":[{}]},"mark":{"type":"text","align":"left","baseline":"middle","fontSize":26,"color":"#8B1B2F"},
    "encoding":{"x":{"datum":4.727,"type":"quantitative","scale":{"domain":[0,100],"nice":false},"axis":null},"y":{"datum":63,"type":"quantitative","scale":{"domain":[0,100],"reverse":true,"nice":false},"axis":null},"text":{"value":"LINEAR"}}},
   {"data":{"values":[{}]},"mark":{"type":"text","align":"left","baseline":"middle","fontSize":11.5,"color":"#8B1B2F"},
    "encoding":{"x":{"datum":4.727,"type":"quantitative","scale":{"domain":[0,100],"nice":false},"axis":null},"y":{"datum":84,"type":"quantitative","scale":{"domain":[0,100],"reverse":true,"nice":false},"axis":null},"text":{"value":"TECHNOLOGY"}}}
  ]},
 {"width":1,"height":100,"view":{"stroke":null},"data":{"values":[{}]},"mark":{"type":"point","opacity":0}},
 {"width":1,"height":100,"view":{"stroke":null},"data":{"values":[{}]},"mark":{"type":"point","opacity":0}}
]
}
